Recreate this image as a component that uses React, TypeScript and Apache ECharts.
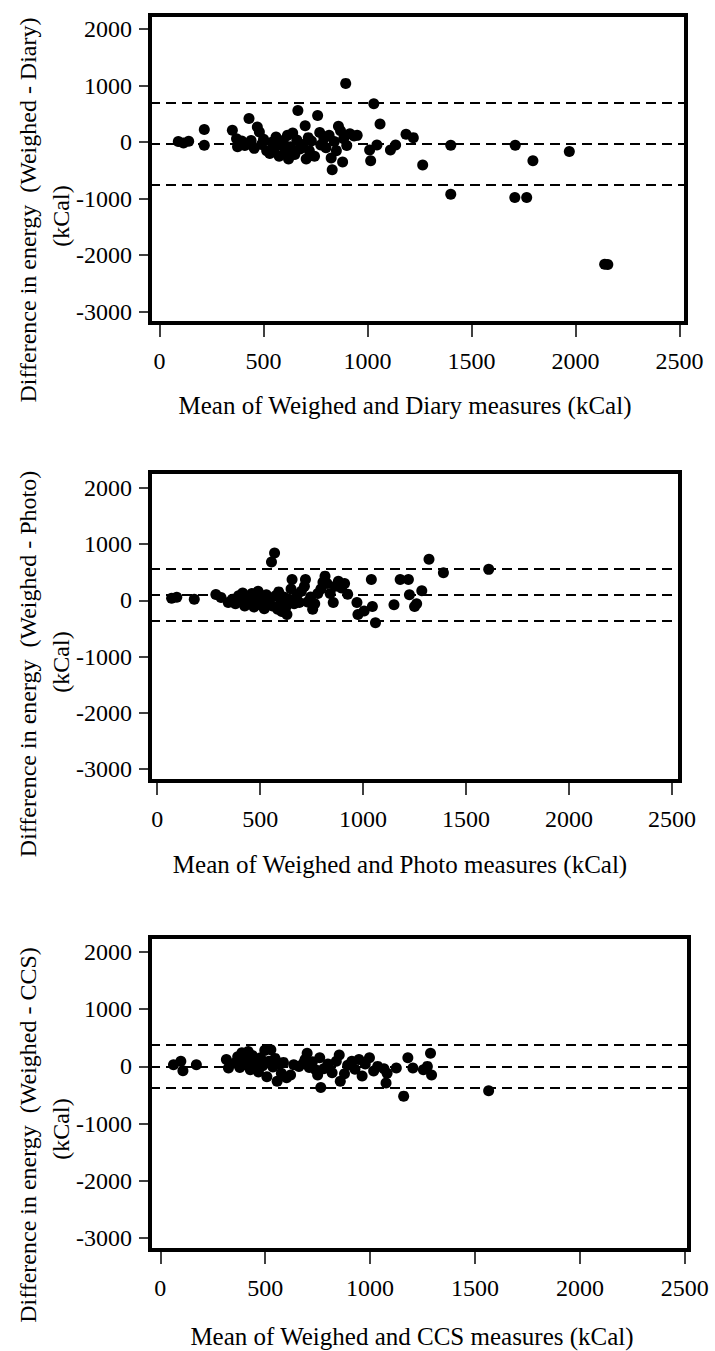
import React, { useEffect, useRef } from "react";
import * as echarts from "echarts";

const xTicks = [0, 500, 1000, 1500, 2000, 2500];
const yTicks = [-3000, -2000, -1000, 0, 1000, 2000];

const diaryPoints: number[][] = [
  [90, 10], [115, -15], [140, 15], [215, 225], [215, -55],
  [350, 210], [370, 60], [375, -80], [395, 20], [410, -60], [430, 420], [440, 30], [455, -110],
  [470, 270], [480, 180], [490, -40], [500, 50], [515, -150], [530, -200], [540, 0], [555, -100],
  [560, 90], [575, -250], [585, -50], [595, 30], [605, -160], [615, 120], [620, -300], [630, -80],
  [640, 160], [650, -220], [660, 40], [665, 560], [675, -120], [690, -40], [700, 290], [705, -300],
  [715, 80], [720, -150], [730, 20], [745, -250], [760, 470], [770, 170], [775, -50], [790, 60],
  [800, -100], [815, 120], [825, -280], [830, -490], [840, 10], [850, -150], [860, 280], [870, 200],
  [880, -350], [885, 60], [895, 1040], [900, -60], [915, 150], [935, 110], [950, 120],
  [1010, -140], [1015, -330], [1030, 680], [1045, -50], [1060, 320], [1110, -140], [1135, -50],
  [1185, 140], [1220, 80], [1265, -405], [1400, -55], [1400, -920], [1710, -55], [1708, -980],
  [1765, -980], [1795, -330], [1970, -165], [2140, -2160], [2155, -2165],
];
const diaryLimits = [690, -30, -760];

const photoPoints: number[][] = [
  [70, 35], [95, 55], [180, 20], [285, 105], [310, 50], [345, -40], [365, 20], [380, -60],
  [395, 80], [405, -20], [415, 130], [425, -100], [440, 40], [450, -50], [460, 120], [470, -120],
  [480, 10], [490, 160], [500, -80], [510, 60], [520, -150], [530, 100], [535, -30], [545, 30],
  [555, 680], [560, -100], [570, 840], [575, 80], [585, -160], [590, 150], [600, 0], [605, -200],
  [615, 60], [625, -120], [630, -250], [640, 20], [650, 200], [655, 370], [665, -60], [680, 100],
  [690, -40], [700, 160], [715, 250], [720, 370], [730, -30], [745, 60], [755, -160], [765, -60],
  [780, 120], [795, 200], [805, 320], [815, 430], [825, 300], [840, 120], [855, -40], [865, 250],
  [880, 340], [895, 220], [910, 300], [925, 110], [970, -40], [975, -250], [1005, -190],
  [1040, 370], [1045, -110], [1060, -400], [1150, -80], [1180, 370], [1220, 370], [1225, 100],
  [1250, -110], [1260, -60], [1285, 170], [1320, 730], [1390, 490], [1610, 550],
];
const photoLimits = [560, 100, -355];

const ccsPoints: number[][] = [
  [63, 30], [98, 90], [108, -75], [172, 30], [315, 120], [325, -30], [355, 60], [369, 170],
  [379, -20], [389, 240], [399, 100], [409, 30], [419, 260], [429, -60], [439, 190], [448, 120],
  [458, 50], [468, -100], [478, 150], [488, 10], [498, 280], [508, -180], [518, 90], [527, 290],
  [537, -10], [547, 140], [557, -260], [567, 40], [577, -120], [587, 70], [602, -200], [621, -150],
  [636, 30], [661, 0], [681, 50], [690, 120], [700, 230], [710, -20], [725, 80], [740, -60],
  [750, -150], [760, 150], [765, -370], [779, -40], [799, 40], [819, -110], [839, 90], [853, 200],
  [858, -260], [878, -130], [893, 20], [913, 90], [928, -50], [947, 120], [962, -170], [977, 40],
  [997, 150], [1017, -80], [1036, 0], [1066, -40], [1076, -290], [1081, -120], [1125, -30],
  [1160, -520], [1180, 150], [1204, -30], [1254, -60], [1273, 0], [1288, 230], [1293, -150],
  [1565, -425],
];
const ccsLimits = [380, 0, -380];

const FONT = "Liberation Serif";

const panels = [
  {
    grid: { left: 150, top: 15, width: 536, height: 308 },
    x: [-46, 2531], y: [-3200, 2250],
    points: diaryPoints, limits: diaryLimits,
    yTitle: "Difference in energy  (Weighed - Diary)",
    xTitle: "Mean of Weighed and Diary measures (kCal)",
    yTitleY: 210, yUnitY: 216, xTitleY: 405, xTitleX: 405,
  },
  {
    grid: { left: 150, top: 472, width: 530, height: 309 },
    x: [-35, 2539], y: [-3210, 2280],
    points: photoPoints, limits: photoLimits,
    yTitle: "Difference in energy  (Weighed - Photo)",
    xTitle: "Mean of Weighed and Photo measures (kCal)",
    yTitleY: 664, yUnitY: 662, xTitleY: 864, xTitleX: 400,
  },
  {
    grid: { left: 150, top: 937, width: 539, height: 313 },
    x: [-49, 2520], y: [-3210, 2262],
    points: ccsPoints, limits: ccsLimits,
    yTitle: "Difference in energy  (Weighed - CCS)",
    xTitle: "Mean of Weighed and CCS measures (kCal)",
    yTitleY: 1135, yUnitY: 1129, xTitleY: 1336, xTitleX: 412,
  },
];

export default function App() {
  const ref = useRef<HTMLDivElement>(null);
  useEffect(() => {
    if (!ref.current) return;
    const chart = echarts.init(ref.current, null, { renderer: "svg" });
    const textStyle = (text: string, size: number) => ({
      text,
      fontFamily: FONT,
      fontSize: size,
      fill: "#000",
      textAlign: "center",
      textVerticalAlign: "middle",
      align: "center",
      verticalAlign: "middle",
    });
    const graphics: any[] = [];
    panels.forEach((p) => {
      graphics.push({ type: "text", x: 28, y: p.yTitleY, rotation: Math.PI / 2, style: textStyle(p.yTitle, 24) });
      graphics.push({ type: "text", x: 61, y: p.yUnitY, rotation: Math.PI / 2, style: textStyle("(kCal)", 24) });
      graphics.push({ type: "text", x: p.xTitleX, y: p.xTitleY, style: textStyle(p.xTitle, 25) });
    });
    const plain = (v: number) => String(v);
    chart.setOption({
      animation: false,
      backgroundColor: "#fff",
      textStyle: { fontFamily: FONT },
      grid: panels.map((p) => ({
        ...p.grid,
        show: true,
        borderColor: "#000",
        borderWidth: 4,
        backgroundColor: "transparent",
        containLabel: false,
      })),
      xAxis: panels.map((p, i) => ({
        type: "value",
        gridIndex: i,
        min: p.x[0],
        max: p.x[1],
        axisLine: { show: false, onZero: false },
        splitLine: { show: false },
        axisTick: { show: true, customValues: xTicks, length: 14, lineStyle: { color: "#000", width: 1.5 } },
        axisLabel: { customValues: xTicks, formatter: plain, fontSize: 24, fontFamily: FONT, color: "#000", margin: 26 },
      })),
      yAxis: panels.map((p, i) => ({
        type: "value",
        gridIndex: i,
        min: p.y[0],
        max: p.y[1],
        axisLine: { show: false, onZero: false },
        splitLine: { show: false },
        axisTick: { show: true, customValues: yTicks, length: 11, lineStyle: { color: "#000", width: 1.5 } },
        axisLabel: { customValues: yTicks, formatter: plain, fontSize: 24, fontFamily: FONT, color: "#000", margin: 18 },
      })),
      series: panels.map((p, i) => ({
        type: "scatter",
        xAxisIndex: i,
        yAxisIndex: i,
        data: p.points,
        symbol: "circle",
        symbolSize: 11,
        itemStyle: { color: "#000", opacity: 1 },
        markLine: {
          silent: true,
          symbol: ["none", "none"],
          label: { show: false },
          lineStyle: { color: "#000", type: [10, 6], width: 2 },
          data: p.limits.map((v) => ({ yAxis: v })),
        },
      })),
      graphic: graphics,
    });
    return () => chart.dispose();
  }, []);
  return (
    <div
      ref={ref}
      style={{ position: "absolute", left: 0, top: 0, width: 715, height: 1351, background: "#fff" }}
    />
  );
}
